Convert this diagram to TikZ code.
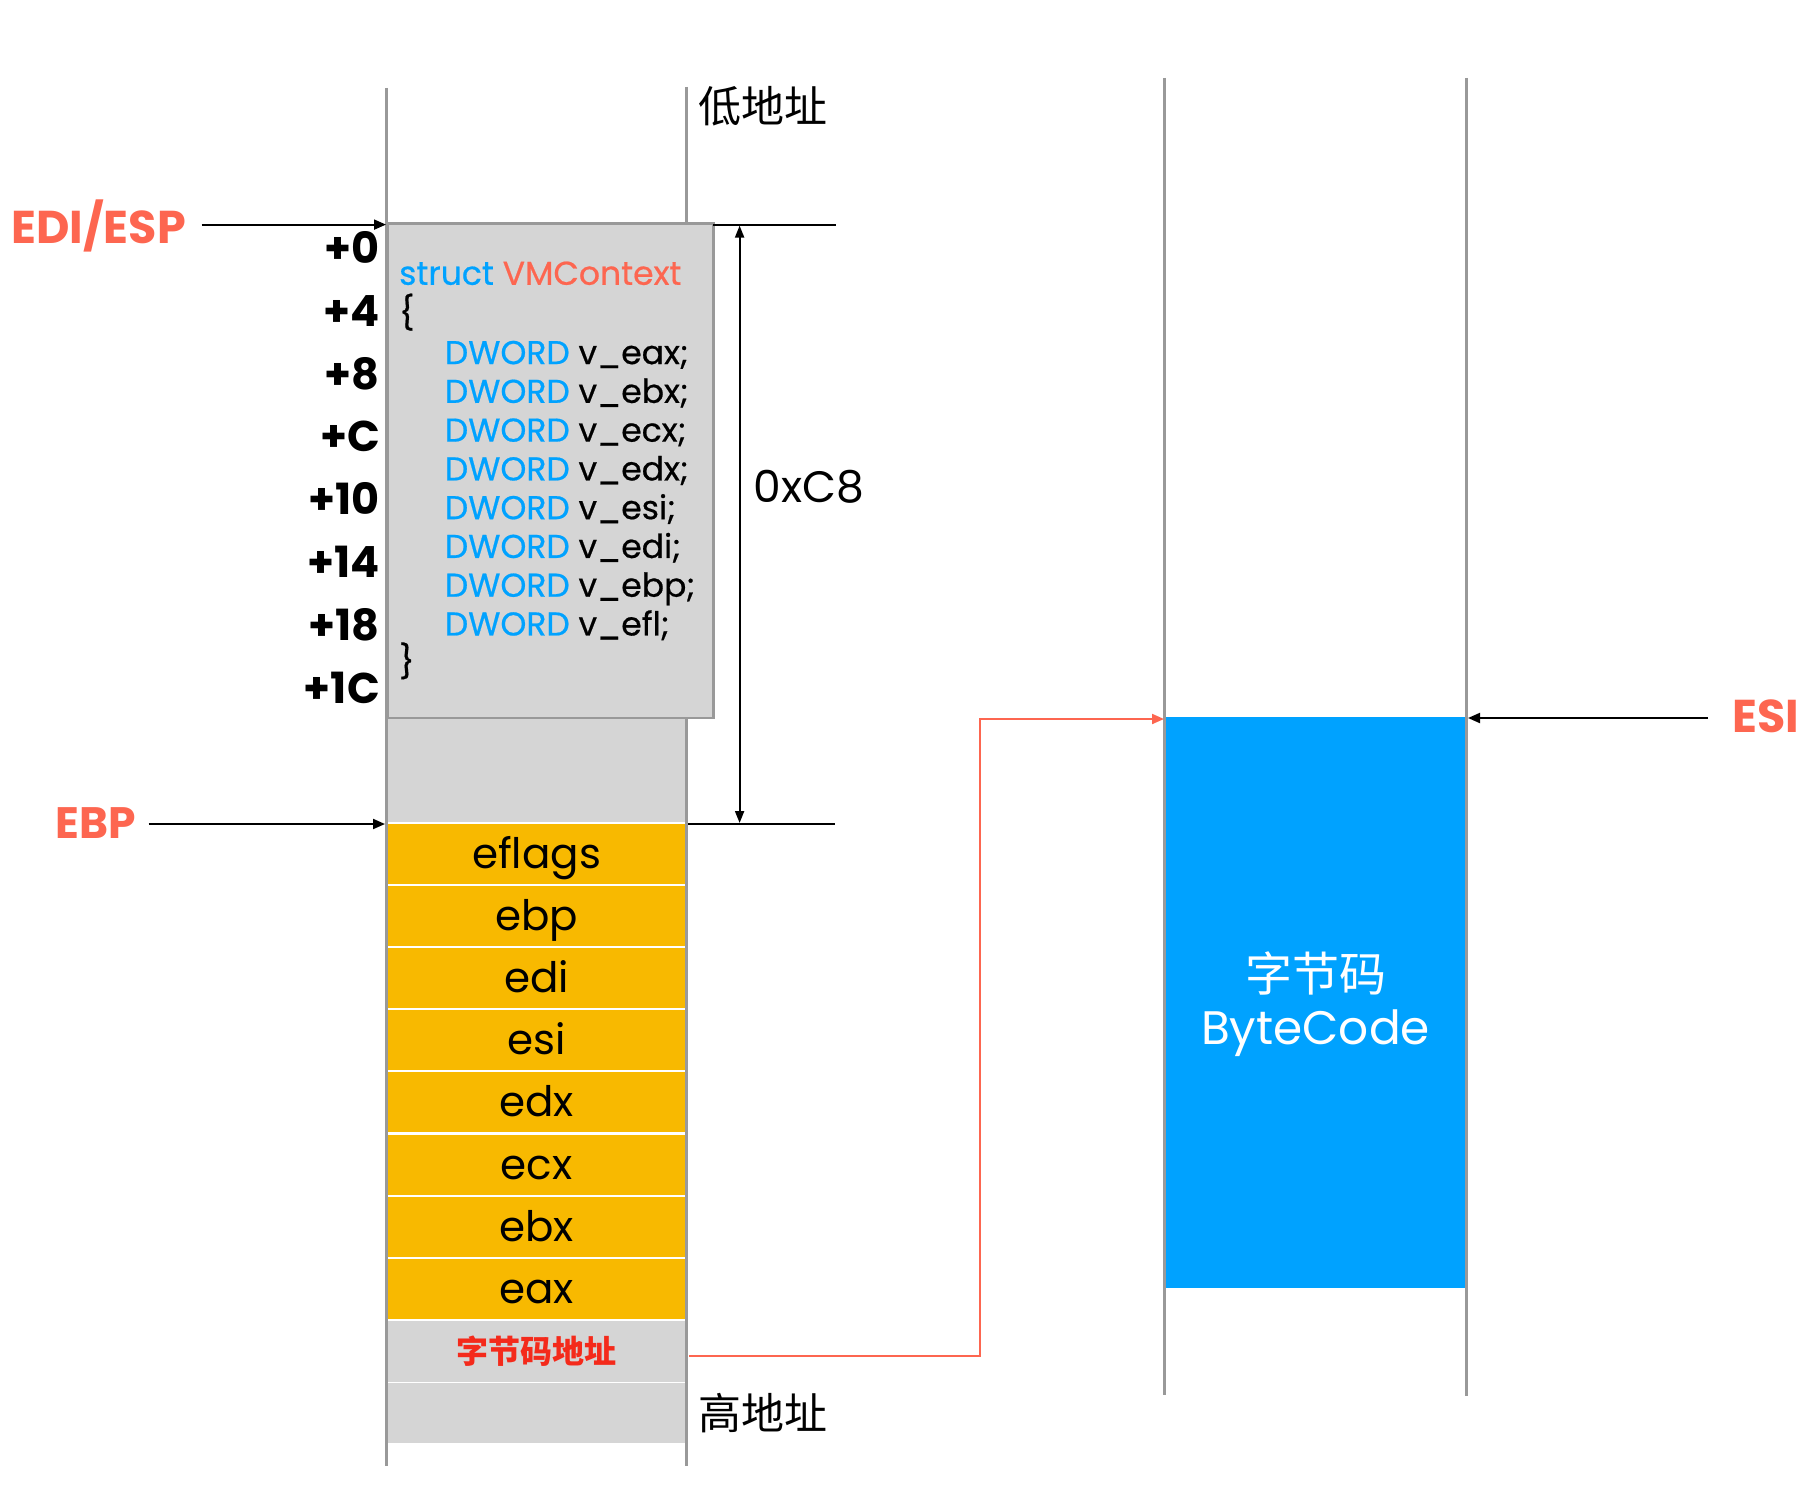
\documentclass[tikz,border=0pt]{standalone}
\usepackage{fontspec}
\setmainfont{Poppins}
\newfontfamily\cjk{Noto Sans CJK SC}
\newfontfamily\codefont[FakeBold=0.6]{Poppins}
\usetikzlibrary{arrows.meta}
\definecolor{tomato}{HTML}{FD6650}
\definecolor{skyb}{HTML}{00A2FF}
\definecolor{ylw}{HTML}{F8B900}
\definecolor{lgray}{HTML}{D5D5D5}
\definecolor{lngray}{HTML}{999999}
\definecolor{brred}{HTML}{F42A1B}
\newcommand\fsz[1]{\fontsize{#1}{#1}\selectfont}
\begin{document}
\begin{tikzpicture}[x=1pt,y=-1pt,
  colline/.style={draw=lngray,line width=2.5pt},
  yrow/.style={fill=ylw,draw=white,line width=2pt,minimum width=300pt,minimum height=62pt,inner sep=0pt,font=\fsz{42},text height=33pt,text depth=4pt},
  grayrow/.style={fill=lgray,draw=white,line width=1pt,minimum width=300pt,inner sep=0pt},
  arr/.style={-{Triangle[length=12pt,width=10pt]},line width=2pt},
  code/.style={font=\codefont\fsz{33},inner sep=0pt,anchor=base west},
  offs/.style={font=\fsz{43}\bfseries,inner sep=0pt,anchor=base east},
  reg/.style={font=\fsz{46}\bfseries,text=tomato,inner sep=0pt}]
\useasboundingbox (0,0) rectangle (1806,1498);
% left stack background
\node[fill=lgray,minimum width=300pt,minimum height=107pt,inner sep=0pt] (gap) at (536.5,770) {};
\node[yrow] (r1) at (536.5,854.0) {eflags};
\node[yrow] (r2) at (536.5,916.1) {ebp};
\node[yrow] (r3) at (536.5,978.2) {edi};
\node[yrow] (r4) at (536.5,1040.3) {esi};
\node[yrow] (r5) at (536.5,1102.4) {edx};
\node[yrow] (r6) at (536.5,1164.5) {ecx};
\node[yrow] (r7) at (536.5,1226.6) {ebx};
\node[yrow] (r8) at (536.5,1288.7) {eax};
\node[grayrow,minimum height=62pt,font=\fsz{32}\cjk\bfseries,text=brred] (bcaddr) at (536.5,1351) {字节码地址};
\node[grayrow,minimum height=61pt] (r10) at (536.5,1412.5) {};
% column lines
\draw[colline] (386.5,88) coordinate (lt) -- (386.5,1466) coordinate (lb);
\draw[colline] (686.6,87) coordinate (rt) -- (686.6,1466) coordinate (rb);
% struct box
\node[fill=lgray,draw=lngray,line width=2.5pt,minimum width=325.5pt,minimum height=494.5pt,inner sep=0pt,anchor=north west] (sbox) at (386.5,222.2) {};
\node[code] (s0) at (399,284.8) {\textcolor{skyb}{struct} \textcolor{tomato}{VMContext}};
\node[code] (s1) at (399,324.5) {\{};
\foreach \i/\n in {0/eax,1/ebx,2/ecx,3/edx,4/esi,5/edi,6/ebp,7/efl}{
  \node[code] (d\i) at (444.7,364.1+38.77*\i) {\textcolor{skyb}{DWORD} v\_\n;};
}
\node[code] (s2) at (399,673.2) {\}};
% offsets
\foreach \i/\t in {0/+0,1/+4,2/+8,3/+C,4/+10,5/+14,6/+18,7/+1C}{
  \node[offs] (o\i) at (380,263.4+62.8*\i) {\t};
}
% labels
\node[font=\fsz{43}\cjk,inner sep=0pt] (low) at (763,106) {低地址};
\node[font=\fsz{43}\cjk,inner sep=0pt] (high) at (763,1413) {高地址};
\node[font=\fsz{44},inner sep=0pt] (size) at (809,486.4) {0xC8};
% size dimension
\coordinate (t0) at (713,224.6);
\coordinate (t1) at (836,224.6);
\coordinate (b0) at (688,824);
\coordinate (b1) at (835,824);
\draw[line width=2pt] (t0) -- (t1);
\draw[line width=2pt] (b0) -- (b1);
\coordinate (da) at (739.6,225.6);
\coordinate (db) at (739.6,823);
\draw[line width=2pt,{Triangle[length=12pt,width=9pt]}-{Triangle[length=12pt,width=9pt]}] (da) -- (db);
% register arrows
\node[reg,anchor=east] (edi) at (186,225.5) {EDI/ESP};
\coordinate (edistart) at (201.6,224.6);
\coordinate (ediend) at (386,224.6);
\draw[arr] (edistart) -- (ediend);
\node[reg,anchor=east,font=\fsz{44}\bfseries] (ebp) at (136,823) {EBP};
\coordinate (ebpstart) at (148.6,824);
\coordinate (ebpend) at (385,824);
\draw[arr] (ebpstart) -- (ebpend);
% right column
\node[fill=skyb,minimum width=302pt,minimum height=570.8pt,inner sep=0pt,anchor=north west] (bc) at (1164.5,716.7) {};
\draw[colline] (1164.5,78) coordinate (lt2) -- (1164.5,1395) coordinate (lb2);
\draw[colline] (1466.4,78) coordinate (rt2) -- (1466.4,1396) coordinate (rb2);
\node[font=\fsz{47}\cjk,text=white,inner sep=0pt] (bct1) at (1315.5,973.6) {字节码};
\node[font=\fsz{47},text=white,inner sep=0pt] (bct2) at (1315.5,1033.3) {ByteCode};
\node[reg,anchor=west] (esi) at (1732,716.7) {ESI};
\coordinate (esistart) at (1708,718);
\coordinate (esiend) at (1468,718);
\draw[arr] (esistart) -- (esiend);
% red connector
\coordinate (rs) at (689,1355.8);
\coordinate (re) at (1164,719);
\draw[tomato,line width=2pt,-{Triangle[length=12pt,width=10pt]}] (rs) -- (980,1355.8) -- (980,719) -- (re);
\end{tikzpicture}
\end{document}
